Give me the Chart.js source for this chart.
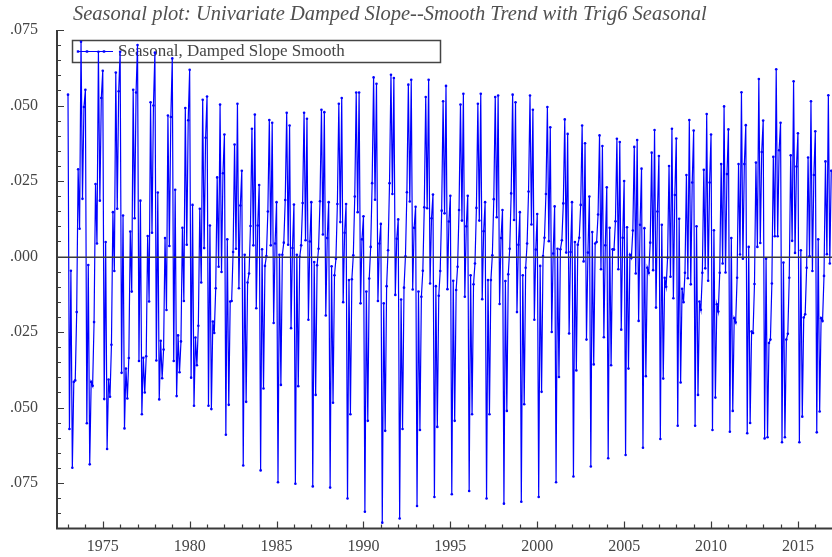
<!DOCTYPE html>
<html>
<head>
<meta charset="utf-8">
<script src="https://cdn.jsdelivr.net/npm/chart.js@4.4.1/dist/chart.umd.min.js"></script>
<style>
  html, body { margin: 0; padding: 0; background: #ffffff; }
  #wrap { width: 832px; height: 557px; }
</style>
</head>
<body>
<div id="wrap"><canvas id="c" width="832" height="557"></canvas></div>
<script>
// Seasonal component, one array per year (January ... December)
const y1973 = [0.0536, -0.0571, -0.0047, -0.0699, -0.0415, -0.0410, -0.0184, 0.0289, 0.0092, 0.0711, 0.0191, 0.0495];
const y1974 = [0.0552, -0.0552, -0.0028, -0.0688, -0.0415, -0.0428, -0.0217, 0.0240, 0.0043, 0.0678, 0.0185, 0.0525];
const y1975 = [0.0615, -0.0472, 0.0048, -0.0637, -0.0407, -0.0464, -0.0292, 0.0147, -0.0048, 0.0609, 0.0158, 0.0547];
const y1976 = [0.0678, -0.0385, 0.0136, -0.0569, -0.0371, -0.0470, -0.0336, 0.0083, -0.0116, 0.0552, 0.0127, 0.0543];
const y1977 = [0.0700, -0.0346, 0.0185, -0.0522, -0.0335, -0.0450, -0.0330, 0.0068, -0.0149, 0.0511, 0.0079, 0.0500];
const y1978 = [0.0675, -0.0344, 0.0212, -0.0473, -0.0279, -0.0403, -0.0308, 0.0061, -0.0177, 0.0467, 0.0035, 0.0462];
const y1979 = [0.0656, -0.0346, 0.0221, -0.0462, -0.0261, -0.0383, -0.0281, 0.0095, -0.0147, 0.0492, 0.0039, 0.0451];
const y1980 = [0.0618, -0.0401, 0.0171, -0.0494, -0.0268, -0.0360, -0.0229, 0.0158, -0.0086, 0.0519, 0.0028, 0.0393];
const y1981 = [0.0530, -0.0494, 0.0103, -0.0505, -0.0215, -0.0253, -0.0105, 0.0262, -0.0034, 0.0503, -0.0051, 0.0276];
const y1982 = [0.0404, -0.0590, 0.0057, -0.0491, -0.0149, -0.0147, 0.0015, 0.0371, 0.0026, 0.0506, -0.0105, 0.0169];
const y1983 = [0.0284, -0.0692, 0.0006, -0.0481, -0.0086, -0.0056, 0.0101, 0.0423, 0.0037, 0.0470, -0.0171, 0.0103];
const y1984 = [0.0237, -0.0708, 0.0024, -0.0437, -0.0031, 0.0002, 0.0149, 0.0452, 0.0037, 0.0443, -0.0220, 0.0043];
const y1985 = [0.0180, -0.0747, 0.0006, -0.0425, 0.0006, 0.0046, 0.0187, 0.0476, 0.0039, 0.0434, -0.0237, 0.0028];
const y1986 = [0.0172, -0.0752, 0.0006, -0.0429, -0.0001, 0.0037, 0.0177, 0.0476, 0.0054, 0.0456, -0.0209, 0.0050];
const y1987 = [0.0180, -0.0761, -0.0018, -0.0458, -0.0029, 0.0026, 0.0183, 0.0486, 0.0073, 0.0478, -0.0195, 0.0061];
const y1988 = [0.0180, -0.0765, -0.0032, -0.0484, -0.0062, -0.0007, 0.0174, 0.0506, 0.0114, 0.0525, -0.0151, 0.0079];
const y1989 = [0.0174, -0.0801, -0.0078, -0.0522, -0.0075, 0.0004, 0.0199, 0.0543, 0.0147, 0.0543, -0.0155, 0.0057];
const y1990 = [0.0133, -0.0845, -0.0116, -0.0544, -0.0073, 0.0032, 0.0243, 0.0593, 0.0188, 0.0572, -0.0147, 0.0043];
const y1991 = [0.0108, -0.0881, -0.0155, -0.0577, -0.0098, 0.0021, 0.0243, 0.0602, 0.0207, 0.0591, -0.0127, 0.0059];
const y1992 = [0.0123, -0.0867, -0.0142, -0.0571, -0.0103, 0.0001, 0.0213, 0.0569, 0.0182, 0.0585, -0.0109, 0.0095];
const y1993 = [0.0165, -0.0826, -0.0116, -0.0574, -0.0133, -0.0047, 0.0163, 0.0528, 0.0160, 0.0585, -0.0089, 0.0127];
const y1994 = [0.0205, -0.0796, -0.0098, -0.0564, -0.0130, -0.0048, 0.0152, 0.0514, 0.0143, 0.0565, -0.0108, 0.0116];
const y1995 = [0.0201, -0.0787, -0.0080, -0.0544, -0.0111, -0.0034, 0.0154, 0.0503, 0.0119, 0.0539, -0.0133, 0.0100];
const y1996 = [0.0201, -0.0776, -0.0062, -0.0522, -0.0092, -0.0023, 0.0161, 0.0506, 0.0119, 0.0539, -0.0141, 0.0084];
const y1997 = [0.0180, -0.0801, -0.0078, -0.0522, -0.0078, 0.0004, 0.0190, 0.0528, 0.0130, 0.0533, -0.0157, 0.0061];
const y1998 = [0.0154, -0.0818, -0.0081, -0.0511, -0.0059, 0.0026, 0.0209, 0.0536, 0.0121, 0.0511, -0.0184, 0.0039];
const y1999 = [0.0147, -0.0812, -0.0062, -0.0489, -0.0037, 0.0043, 0.0215, 0.0533, 0.0106, 0.0486, -0.0209, 0.0023];
const y2000 = [0.0141, -0.0796, -0.0031, -0.0448, 0.0002, 0.0062, 0.0207, 0.0495, 0.0051, 0.0428, -0.0250, 0.0010];
const y2001 = [0.0166, -0.0747, 0.0026, -0.0399, 0.0024, 0.0054, 0.0176, 0.0454, 0.0013, 0.0406, -0.0255, 0.0015];
const y2002 = [0.0180, -0.0728, 0.0048, -0.0377, 0.0039, 0.0062, 0.0171, 0.0434, -0.0016, 0.0375, -0.0275, 0.0013];
const y2003 = [0.0199, -0.0695, 0.0081, -0.0357, 0.0043, 0.0048, 0.0139, 0.0401, -0.0042, 0.0366, -0.0267, 0.0037];
const y2004 = [0.0229, -0.0668, 0.0095, -0.0360, 0.0024, 0.0023, 0.0117, 0.0390, -0.0042, 0.0379, -0.0242, 0.0062];
const y2005 = [0.0250, -0.0657, 0.0097, -0.0371, 0.0006, -0.0005, 0.0086, 0.0363, -0.0056, 0.0386, -0.0213, 0.0105];
const y2006 = [0.0291, -0.0633, 0.0094, -0.0396, -0.0037, -0.0054, 0.0046, 0.0344, -0.0045, 0.0419, -0.0169, 0.0149];
const y2007 = [0.0333, -0.0604, 0.0105, -0.0404, -0.0070, -0.0100, -0.0004, 0.0300, -0.0067, 0.0423, -0.0138, 0.0204];
const y2008 = [0.0391, -0.0560, 0.0125, -0.0417, -0.0107, -0.0151, -0.0054, 0.0270, -0.0072, 0.0452, -0.0092, 0.0245];
const y2009 = [0.0417, -0.0560, 0.0100, -0.0458, -0.0149, -0.0176, -0.0054, 0.0287, -0.0039, 0.0472, -0.0080, 0.0245];
const y2010 = [0.0404, -0.0574, 0.0087, -0.0467, -0.0158, -0.0182, -0.0054, 0.0306, -0.0023, 0.0497, -0.0053, 0.0273];
const y2011 = [0.0421, -0.0580, 0.0061, -0.0511, -0.0204, -0.0218, -0.0070, 0.0306, 0.0007, 0.0544, -0.0007, 0.0306];
const y2012 = [0.0435, -0.0585, 0.0032, -0.0551, -0.0248, -0.0253, -0.0091, 0.0311, 0.0032, 0.0588, 0.0045, 0.0346];
const y2013 = [0.0450, -0.0602, -0.0007, -0.0598, -0.0286, -0.0275, -0.0089, 0.0330, 0.0067, 0.0620, 0.0067, 0.0352];
const y2014 = [0.0443, -0.0615, -0.0020, -0.0598, -0.0275, -0.0256, -0.0070, 0.0335, 0.0052, 0.0580, 0.0012, 0.0298];
const y2015 = [0.0408, -0.0615, 0.0021, -0.0530, -0.0202, -0.0191, -0.0037, 0.0328, 0.0001, 0.0514, -0.0048, 0.0270];
const y2016 = [0.0415, -0.0582, 0.0057, -0.0513, -0.0204, -0.0213, -0.0064, 0.0315, 0.0008, 0.0534, -0.0023, 0.0284];

const years = [1973, 1974, 1975, 1976, 1977, 1978, 1979, 1980, 1981, 1982, 1983, 1984, 1985, 1986, 1987,
  1988, 1989, 1990, 1991, 1992, 1993, 1994, 1995, 1996, 1997, 1998, 1999, 2000, 2001, 2002, 2003,
  2004, 2005, 2006, 2007, 2008, 2009, 2010, 2011, 2012, 2013, 2014, 2015, 2016];
const seasonalByYear = [y1973, y1974, y1975, y1976, y1977, y1978, y1979, y1980, y1981, y1982, y1983,
  y1984, y1985, y1986, y1987, y1988, y1989, y1990, y1991, y1992, y1993, y1994, y1995, y1996, y1997,
  y1998, y1999, y2000, y2001, y2002, y2003, y2004, y2005, y2006, y2007, y2008, y2009, y2010, y2011,
  y2012, y2013, y2014, y2015, y2016];

const xTickYears = [1975, 1980, 1985, 1990, 1995, 2000, 2005, 2010, 2015];
const yTickValues = [-0.075, -0.05, -0.025, 0, 0.025, 0.05, 0.075];
const chartTitle = 'Seasonal plot: Univariate Damped Slope--Smooth Trend with Trig6 Seasonal';
const seriesLabel = 'Seasonal, Damped Slope Smooth';

// Monthly points: x = year + month/12
const points = [];
years.forEach((yr, k) => {
  seasonalByYear[k].forEach((v, m) => points.push({ x: yr + m / 12, y: v }));
});

const BLUE = '#0000ff';
const AXIS = '#3a3a3a';
const TEXT = '#454545';
const SERIF = '"Liberation Serif", "Times New Roman", serif';

// Legend box, axis lines, inward ticks, zero line, title
const framePlugin = {
  id: 'frame',
  beforeDatasetsDraw(chart) {
    const { ctx } = chart;
    // legend box (transparent, series drawn over it)
    ctx.save();
    ctx.strokeStyle = '#444444';
    ctx.lineWidth = 1.5;
    ctx.strokeRect(72.5, 40.5, 368, 22);
    ctx.strokeStyle = BLUE;
    ctx.lineWidth = 1.2;
    ctx.beginPath();
    ctx.moveTo(78, 51.5);
    ctx.lineTo(113, 51.5);
    ctx.stroke();
    ctx.fillStyle = BLUE;
    [78, 87, 104].forEach(px => { ctx.fillRect(px - 1.2, 50.3, 2.4, 2.4); });
    ctx.fillStyle = TEXT;
    ctx.font = '17px ' + SERIF;
    ctx.textBaseline = 'middle';
    ctx.textAlign = 'left';
    ctx.fillText(seriesLabel, 118, 52);
    ctx.restore();
  },
  afterDatasetsDraw(chart) {
    const { ctx, chartArea: a, scales: { x, y } } = chart;
    ctx.save();
    ctx.strokeStyle = AXIS;
    // zero line
    ctx.lineWidth = 1.5;
    const y0 = Math.round(y.getPixelForValue(0)) + 0.25;
    ctx.beginPath();
    ctx.moveTo(a.left, y0);
    ctx.lineTo(a.right, y0);
    ctx.stroke();
    // axes
    ctx.lineWidth = 2;
    ctx.beginPath();
    ctx.moveTo(a.left, a.top);
    ctx.lineTo(a.left, a.bottom + 1);
    ctx.moveTo(a.left - 1, a.bottom);
    ctx.lineTo(a.right, a.bottom);
    ctx.stroke();
    // y ticks: major on labels, minor every .005
    ctx.lineWidth = 1.2;
    ctx.beginPath();
    for (let k = -18; k <= 15; k++) {
      const v = k * 0.005;
      const py = Math.round(y.getPixelForValue(v)) + 0.5;
      const len = (k % 5 === 0) ? 7 : 4;
      ctx.moveTo(a.left, py);
      ctx.lineTo(a.left + len, py);
    }
    // x ticks: major every 5 years, minor yearly
    for (let yr = 1973; yr <= 2016; yr++) {
      const px = Math.round(x.getPixelForValue(yr)) + 0.5;
      const len = (yr % 5 === 0) ? 7 : 4;
      ctx.moveTo(px, a.bottom);
      ctx.lineTo(px, a.bottom - len);
    }
    ctx.stroke();
    // title
    ctx.fillStyle = '#505050';
    ctx.font = 'italic 20.5px ' + SERIF;
    ctx.textBaseline = 'alphabetic';
    ctx.textAlign = 'left';
    ctx.fillText(chartTitle, 73, 20);
    ctx.restore();
  }
};

new Chart(document.getElementById('c'), {
  type: 'line',
  data: {
    datasets: [{
      label: seriesLabel,
      data: points,
      borderColor: BLUE,
      backgroundColor: BLUE,
      borderWidth: 1.2,
      pointRadius: 1.3,
      pointBorderWidth: 0,
      pointBackgroundColor: BLUE,
      pointStyle: 'circle',
      tension: 0,
      fill: false
    }]
  },
  options: {
    responsive: false,
    devicePixelRatio: 1,
    animation: false,
    events: [],
    layout: { autoPadding: false, padding: { top: 30, right: 0, bottom: 0, left: 0 } },
    plugins: {
      legend: { display: false },
      title: { display: false },
      tooltip: { enabled: false }
    },
    scales: {
      x: {
        type: 'linear',
        min: 1972.367,
        max: 2016.96,
        grid: { display: false, drawTicks: false },
        border: { display: false },
        afterBuildTicks: s => { s.ticks = xTickYears.map(v => ({ value: v })); },
        afterFit: s => { s.height = 25; },
        ticks: {
          autoSkip: false,
          maxRotation: 0,
          padding: 9,
          color: TEXT,
          font: { family: SERIF, size: 16 },
          callback: v => String(v)
        }
      },
      y: {
        type: 'linear',
        min: -0.09,
        max: 0.075,
        grid: { display: false, drawTicks: false },
        border: { display: false },
        afterBuildTicks: s => { s.ticks = yTickValues.map(v => ({ value: v })); },
        afterFit: s => { s.width = 57; },
        ticks: {
          padding: 19,
          color: TEXT,
          font: { family: SERIF, size: 16 },
          callback: v => '.' + String(Math.round(Math.abs(v) * 1000)).padStart(3, '0')
        }
      }
    }
  },
  plugins: [framePlugin]
});
</script>
</body>
</html>
